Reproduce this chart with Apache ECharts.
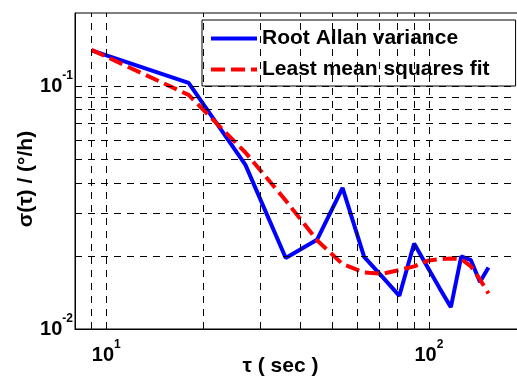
<!DOCTYPE html>
<html>
<head>
<meta charset="utf-8">
<script src="https://cdn.jsdelivr.net/npm/echarts@6/dist/echarts.min.js"></script>
<style>
  html,body{margin:0;padding:0;background:#fff;}
  #chart{width:517px;height:378px;}
</style>
</head>
<body>
<div id="chart"></div>
<script>
// ===== data =====
const tau = [9, 18, 27, 36, 45, 54, 63, 72, 81, 90, 99, 108, 117, 126, 135, 144, 153];
const allanDev = [0.1404, 0.1032, 0.0474, 0.0196, 0.0233, 0.0381, 0.0198, 0.0163, 0.0137,
                  0.0225, 0.0180, 0.0147, 0.0123, 0.0199, 0.0192, 0.0156, 0.0179];
const lmsFit = [0.1410, 0.0920, 0.0533, 0.0338, 0.0232, 0.0185, 0.0171, 0.0169, 0.0175,
                0.0181, 0.0191, 0.0194, 0.0195, 0.0194, 0.0181, 0.0160, 0.0140];
const xGrid = [9, 10, 20, 30, 40, 50, 60, 70, 80, 90, 100];
const yGrid = [0.02, 0.03, 0.04, 0.05, 0.06, 0.07, 0.08, 0.09, 0.1];
const seriesNames = ['Root Allan variance', 'Least mean squares fit'];

const FONT = "'Liberation Sans', Arial, sans-serif";

function pow10Label(v){
  const l = Math.log10(v), e = Math.round(l);
  if (Math.abs(l - e) > 1e-6) return '';
  return '{b|10}{s|' + e + '}';
}
const richLab = {
  b:{fontSize:20, fontWeight:'bold', fontFamily:FONT, color:'#000', lineHeight:26, verticalAlign:'bottom'},
  s:{fontSize:12, fontWeight:'bold', fontFamily:FONT, color:'#000', lineHeight:26, verticalAlign:'top'}
};
const gridStyle = {color:'#000', width:1, type:[7,6]};

const chart = echarts.init(document.getElementById('chart'), null, {renderer:'canvas'});
chart.setOption({
  animation:false,
  backgroundColor:'#fff',
  grid:{left:75, top:13, right:-9, bottom:49, containLabel:false, outerBoundsMode:'none',
        show:true, borderColor:'#000', borderWidth:1, backgroundColor:'transparent'},
  legend:{
    data:[
      {name:seriesNames[0], icon:'path://M0,0h46v4h-46z', itemStyle:{color:'#0000ff'}},
      {name:seriesNames[1], icon:'path://M0,0h14v4h-14zM20,0h14v4h-14zM40,0h6v4h-6z', itemStyle:{color:'#ff0000'}}
    ],
    orient:'vertical', left:202, top:20,
    padding:[8,26,6,9], itemWidth:46, itemHeight:20, itemGap:10,
    backgroundColor:'#fff', borderColor:'#000', borderWidth:1,
    textStyle:{fontSize:21, fontWeight:'bold', fontFamily:FONT, color:'#000'}
  },
  xAxis:{
    type:'log', logBase:10, min:8, max:200,
    name:'τ ( sec )', nameLocation:'middle', nameGap:27, nameMoveOverlap:false,
    nameTextStyle:{fontSize:21, fontWeight:'bold', fontFamily:FONT, color:'#000', padding:[0,40,0,0]},
    axisLine:{lineStyle:{color:'#000', width:1}},
    axisTick:{show:false}, splitLine:{show:false},
    axisLabel:{formatter:pow10Label, rich:richLab, margin:10, showMinLabel:true, showMaxLabel:true}
  },
  yAxis:{
    type:'log', logBase:10, min:0.01, max:0.2,
    name:'σ(τ) / (°/h)', nameLocation:'middle', nameGap:38, nameMoveOverlap:false,
    nameTextStyle:{fontSize:21, fontWeight:'bold', fontFamily:FONT, color:'#000', padding:[0,16,0,0]},
    axisLine:{lineStyle:{color:'#000', width:1}},
    axisTick:{show:false}, splitLine:{show:false},
    axisLabel:{formatter:pow10Label, rich:richLab, margin:2, padding:[0,0,6,0], showMinLabel:true, showMaxLabel:true}
  },
  series:[
    {
      name:'grid', type:'line', data:[], z:1, silent:true,
      markLine:{
        silent:true, symbol:'none', label:{show:false}, animation:false,
        lineStyle:gridStyle,
        data: xGrid.map(v=>({xAxis:v})).concat(yGrid.map(v=>({yAxis:v})))
      }
    },
    {
      name:seriesNames[0], type:'line', z:3, symbol:'none', showSymbol:false,
      data: tau.map((t,i)=>[t, allanDev[i]]),
      itemStyle:{color:'#0000ff'},
      lineStyle:{color:'#0000ff', width:4}
    },
    {
      name:seriesNames[1], type:'line', z:4, symbol:'none', showSymbol:false,
      data: tau.map((t,i)=>[t, lmsFit[i]]),
      itemStyle:{color:'#ff0000'},
      lineStyle:{color:'#ff0000', width:4, type:[14,6]}
    }
  ]
});
</script>
</body>
</html>
